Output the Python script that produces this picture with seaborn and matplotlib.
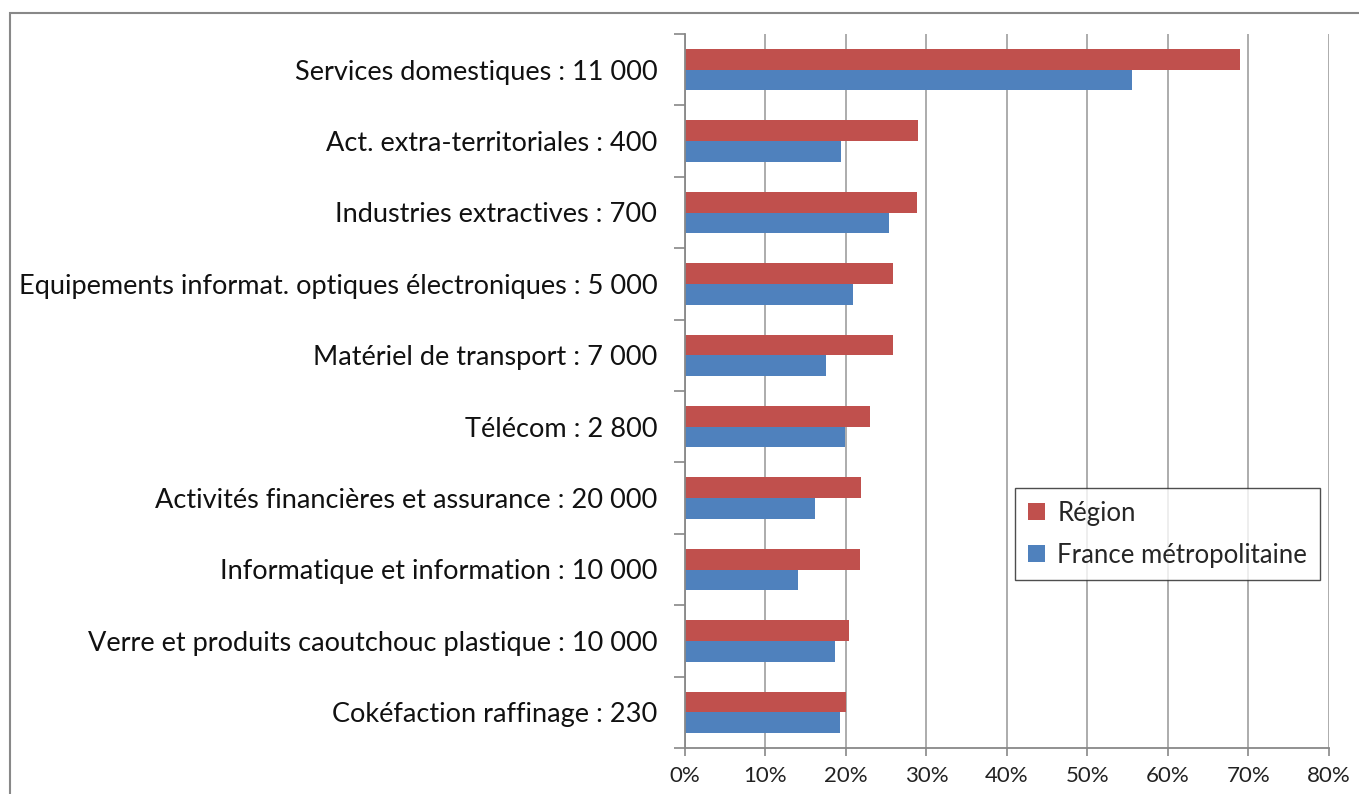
import matplotlib
matplotlib.use("Agg")
import matplotlib.pyplot as plt
import matplotlib.patches as mpatches
from matplotlib.ticker import FuncFormatter, FixedLocator
import seaborn as sns
import pandas as pd

categories = [
    "Services domestiques : 11 000",
    "Act. extra-territoriales : 400",
    "Industries extractives : 700",
    "Equipements informat. optiques électroniques : 5 000",
    "Matériel de transport : 7 000",
    "Télécom : 2 800",
    "Activités financières et assurance : 20 000",
    "Informatique et information : 10 000",
    "Verre et produits caoutchouc plastique : 10 000",
    "Cokéfaction raffinage : 230",
]
region = [68.9, 28.9, 28.8, 25.9, 25.8, 23.0, 21.9, 21.8, 20.4, 20.0]
france = [55.5, 19.4, 25.4, 20.9, 17.5, 19.9, 16.1, 14.0, 18.6, 19.3]
series_names = ["Région", "France métropolitaine"]
x_ticks = [0, 10, 20, 30, 40, 50, 60, 70, 80]

df = pd.DataFrame({
    "categorie": categories * 2,
    "serie": [series_names[0]] * len(categories) + [series_names[1]] * len(categories),
    "valeur": region + france,
})

sns.set_theme(style="white")
plt.rcParams["font.family"] = ["Lato", "DejaVu Sans"]

W, H = 1359, 794
fig = plt.figure(figsize=(W / 100, H / 100), dpi=100)
ax = fig.add_axes([685 / W, 1 - 748 / H, (1329 - 685) / W, (748 - 34) / H])

sns.barplot(data=df, y="categorie", x="valeur", hue="serie", order=categories,
            hue_order=series_names, palette=["#C0504D", "#4F81BD"],
            orient="h", width=0.58, gap=0, saturation=1, ax=ax, legend=True,
            linewidth=0)

ax.set_xlim(0, 80)
ax.set_ylim(len(categories) - 0.5, -0.5)
ax.set_xticks(x_ticks)
ax.xaxis.set_major_formatter(FuncFormatter(lambda v, p: f"{v:.0f}%"))
ax.set_xlabel("")
ax.set_ylabel("")
ax.grid(axis="x", color="#A6A6A6", linewidth=1.3)
ax.set_axisbelow(True)

for s in ["top", "right"]:
    ax.spines[s].set_visible(False)
for s in ["left", "bottom"]:
    ax.spines[s].set_color("#888888")
    ax.spines[s].set_linewidth(1.3)

ax.tick_params(axis="x", which="major", direction="out", length=6, width=1.2,
               color="#888888", labelsize=16, pad=7, bottom=True, labelcolor="#222222")
ax.tick_params(axis="y", which="major", length=0, labelsize=19.5, pad=20, labelcolor="#111111")
ax.yaxis.set_minor_locator(FixedLocator([i - 0.5 for i in range(len(categories) + 1)]))
ax.tick_params(axis="y", which="minor", direction="out", length=8, width=1.2,
               color="#888888", left=True)

leg = ax.legend(loc="upper left", bbox_to_anchor=(1015 / W, 1 - 488 / H),
                bbox_transform=fig.transFigure, fontsize=18.5, frameon=True,
                fancybox=False, edgecolor="#222222", handlelength=0.65,
                handleheight=0.65, handletextpad=0.5, labelspacing=0.65,
                borderpad=0.5, borderaxespad=0)
leg.get_frame().set_linewidth(1.0)

frame = mpatches.Rectangle((10 / W, -0.1), 1.2, 1 - 13 / H + 0.1,
                           transform=fig.transFigure, fill=False,
                           edgecolor="#888888", linewidth=1.5, clip_on=False)
fig.patches.append(frame)

fig.savefig("out.png", dpi=100, facecolor="white")
